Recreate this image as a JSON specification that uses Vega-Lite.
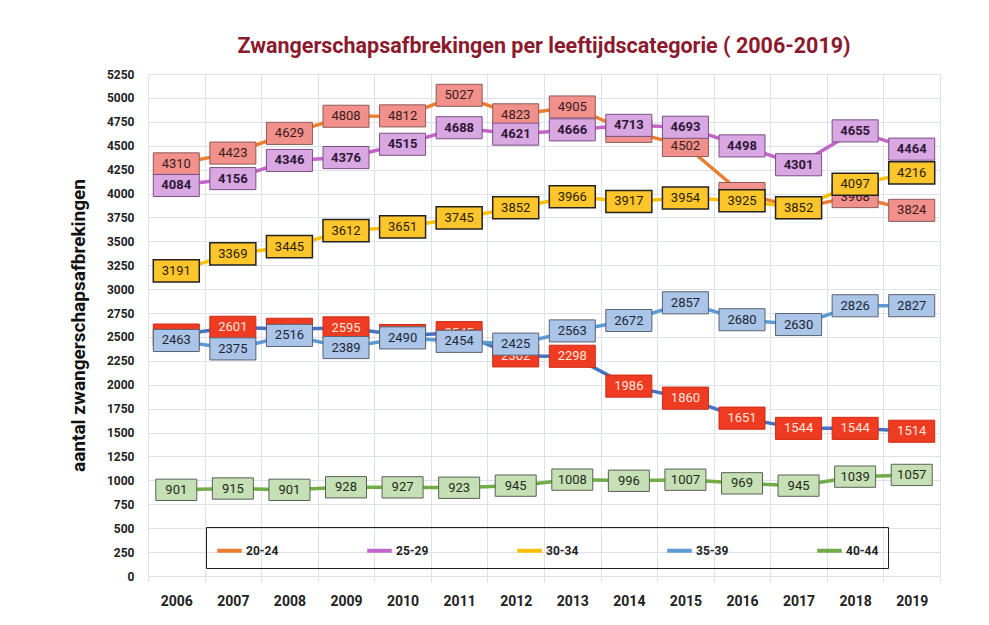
{
  "$schema": "https://vega.github.io/schema/vega-lite/v6.json",
  "width": 792,
  "height": 502,
  "autosize": {"type": "none"},
  "padding": {"left": 148, "top": 74, "right": 49, "bottom": 49},
  "background": "white",
  "config": {
    "view": {"stroke": null},
    "font": "Roboto, sans-serif"
  },
  "title": {
    "text": "Zwangerschapsafbrekingen per leeftijdscategorie ( 2006-2019)",
    "fontSize": 21.5,
    "fontWeight": "bold",
    "color": "#8B1A2E",
    "anchor": "middle",
    "offset": 11,
    "font": "Roboto, sans-serif"
  },
  "data": {
    "values": [
      {"year": "2006", "group": "20-24", "value": 4310},
      {"year": "2007", "group": "20-24", "value": 4423},
      {"year": "2008", "group": "20-24", "value": 4629},
      {"year": "2009", "group": "20-24", "value": 4808},
      {"year": "2010", "group": "20-24", "value": 4812},
      {"year": "2011", "group": "20-24", "value": 5027},
      {"year": "2012", "group": "20-24", "value": 4823},
      {"year": "2013", "group": "20-24", "value": 4905},
      {"year": "2014", "group": "20-24", "value": 4650},
      {"year": "2015", "group": "20-24", "value": 4502},
      {"year": "2016", "group": "20-24", "value": 4000},
      {"year": "2017", "group": "20-24", "value": 3852},
      {"year": "2018", "group": "20-24", "value": 3968},
      {"year": "2019", "group": "20-24", "value": 3824},
      {"year": "2006", "group": "25-29", "value": 4084},
      {"year": "2007", "group": "25-29", "value": 4156},
      {"year": "2008", "group": "25-29", "value": 4346},
      {"year": "2009", "group": "25-29", "value": 4376},
      {"year": "2010", "group": "25-29", "value": 4515},
      {"year": "2011", "group": "25-29", "value": 4688},
      {"year": "2012", "group": "25-29", "value": 4621},
      {"year": "2013", "group": "25-29", "value": 4666},
      {"year": "2014", "group": "25-29", "value": 4713},
      {"year": "2015", "group": "25-29", "value": 4693},
      {"year": "2016", "group": "25-29", "value": 4498},
      {"year": "2017", "group": "25-29", "value": 4301},
      {"year": "2018", "group": "25-29", "value": 4655},
      {"year": "2019", "group": "25-29", "value": 4464},
      {"year": "2006", "group": "30-34", "value": 3191},
      {"year": "2007", "group": "30-34", "value": 3369},
      {"year": "2008", "group": "30-34", "value": 3445},
      {"year": "2009", "group": "30-34", "value": 3612},
      {"year": "2010", "group": "30-34", "value": 3651},
      {"year": "2011", "group": "30-34", "value": 3745},
      {"year": "2012", "group": "30-34", "value": 3852},
      {"year": "2013", "group": "30-34", "value": 3966},
      {"year": "2014", "group": "30-34", "value": 3917},
      {"year": "2015", "group": "30-34", "value": 3954},
      {"year": "2016", "group": "30-34", "value": 3925},
      {"year": "2017", "group": "30-34", "value": 3852},
      {"year": "2018", "group": "30-34", "value": 4097},
      {"year": "2019", "group": "30-34", "value": 4216},
      {"year": "2006", "group": "15-19", "value": 2520},
      {"year": "2007", "group": "15-19", "value": 2601},
      {"year": "2008", "group": "15-19", "value": 2580},
      {"year": "2009", "group": "15-19", "value": 2595},
      {"year": "2010", "group": "15-19", "value": 2515},
      {"year": "2011", "group": "15-19", "value": 2545},
      {"year": "2012", "group": "15-19", "value": 2302},
      {"year": "2013", "group": "15-19", "value": 2298},
      {"year": "2014", "group": "15-19", "value": 1986},
      {"year": "2015", "group": "15-19", "value": 1860},
      {"year": "2016", "group": "15-19", "value": 1651},
      {"year": "2017", "group": "15-19", "value": 1544},
      {"year": "2018", "group": "15-19", "value": 1544},
      {"year": "2019", "group": "15-19", "value": 1514},
      {"year": "2006", "group": "35-39", "value": 2463},
      {"year": "2007", "group": "35-39", "value": 2375},
      {"year": "2008", "group": "35-39", "value": 2516},
      {"year": "2009", "group": "35-39", "value": 2389},
      {"year": "2010", "group": "35-39", "value": 2490},
      {"year": "2011", "group": "35-39", "value": 2454},
      {"year": "2012", "group": "35-39", "value": 2425},
      {"year": "2013", "group": "35-39", "value": 2563},
      {"year": "2014", "group": "35-39", "value": 2672},
      {"year": "2015", "group": "35-39", "value": 2857},
      {"year": "2016", "group": "35-39", "value": 2680},
      {"year": "2017", "group": "35-39", "value": 2630},
      {"year": "2018", "group": "35-39", "value": 2826},
      {"year": "2019", "group": "35-39", "value": 2827},
      {"year": "2006", "group": "40-44", "value": 901},
      {"year": "2007", "group": "40-44", "value": 915},
      {"year": "2008", "group": "40-44", "value": 901},
      {"year": "2009", "group": "40-44", "value": 928},
      {"year": "2010", "group": "40-44", "value": 927},
      {"year": "2011", "group": "40-44", "value": 923},
      {"year": "2012", "group": "40-44", "value": 945},
      {"year": "2013", "group": "40-44", "value": 1008},
      {"year": "2014", "group": "40-44", "value": 996},
      {"year": "2015", "group": "40-44", "value": 1007},
      {"year": "2016", "group": "40-44", "value": 969},
      {"year": "2017", "group": "40-44", "value": 945},
      {"year": "2018", "group": "40-44", "value": 1039},
      {"year": "2019", "group": "40-44", "value": 1057}
    ]
  },
  "encoding": {
    "x": {
      "field": "year",
      "type": "ordinal",
      "bandPosition": 0.5,
      "scale": {"type": "band", "paddingInner": 0, "paddingOuter": 0},
      "axis": {
        "title": null,
        "labelAngle": 0,
        "labelFontSize": 14,
        "labelFontWeight": "bold",
        "labelColor": "#222",
        "labelPadding": 12,
        "tickBand": "extent",
        "grid": true,
        "gridColor": "#DCE1EA",
        "domain": false,
        "ticks": true,
        "tickColor": "#DCE1EA",
        "tickSize": 6
      }
    },
    "y": {
      "field": "value",
      "type": "quantitative",
      "scale": {"domain": [0, 5250], "nice": false, "zero": true},
      "axis": {
        "title": "aantal zwangerschapsafbrekingen",
        "titleFontSize": 19,
        "titleFontWeight": "bold",
        "titleColor": "#111",
        "titlePadding": 18,
        "format": "d",
        "values": [0, 250, 500, 750, 1000, 1250, 1500, 1750, 2000, 2250, 2500, 2750, 3000, 3250, 3500, 3750, 4000, 4250, 4500, 4750, 5000, 5250],
        "labelFontSize": 12,
        "labelFontWeight": "bold",
        "labelColor": "#222",
        "labelPadding": 14,
        "grid": true,
        "gridColor": "#DCE1EA",
        "domain": false,
        "ticks": false
      }
    }
  },
  "layer": [
    {
      "mark": {"type": "line", "strokeWidth": 3.5},
      "encoding": {
        "color": {
          "field": "group",
          "type": "nominal",
          "scale": {
            "domain": ["20-24", "25-29", "30-34", "35-39", "40-44", "15-19"],
            "range": ["#ED7D31", "#C466C9", "#FFC000", "#5B9BD5", "#70AD47", "#4472C4"]
          },
          "legend": {
            "values": ["20-24", "25-29", "30-34", "35-39", "40-44"],
            "title": null,
            "orient": "none",
            "legendX": 58,
            "legendY": 453,
            "direction": "horizontal",
            "columns": 5,
            "columnPadding": 80,
            "padding": 9,
            "strokeColor": "#222",
            "symbolType": "stroke",
            "symbolStrokeWidth": 4,
            "symbolSize": 600,
            "labelFontSize": 12,
            "labelFontWeight": "bold",
            "labelColor": "#222",
            "labelOffset": 2
          }
        }
      }
    },
    {
      "transform": [{"filter": "datum.group === '20-24'"}],
      "mark": {"type": "point", "shape": "M-1,-0.48H1V0.48H-1Z", "size": 2116, "filled": true, "fill": "#F2908C", "stroke": "#8C5A5A", "strokeWidth": 1, "opacity": 1}
    },
    {
      "transform": [{"filter": "datum.group === '20-24'"}],
      "mark": {"type": "text", "fontSize": 13, "color": "#3A1A1A"},
      "encoding": {"text": {"field": "value", "type": "quantitative", "format": "d"}}
    },
    {
      "transform": [{"filter": "datum.group === '25-29'"}],
      "mark": {"type": "point", "shape": "M-1,-0.48H1V0.48H-1Z", "size": 2116, "filled": true, "fill": "#D9A8E2", "stroke": "#7A4F84", "strokeWidth": 1, "opacity": 1}
    },
    {
      "transform": [{"filter": "datum.group === '25-29'"}],
      "mark": {"type": "text", "fontSize": 13, "fontWeight": "bold", "color": "#2E1838"},
      "encoding": {"text": {"field": "value", "type": "quantitative", "format": "d"}}
    },
    {
      "transform": [{"filter": "datum.group === '30-34'"}],
      "mark": {"type": "point", "shape": "M-1,-0.48H1V0.48H-1Z", "size": 2116, "filled": true, "fill": "#FFC62C", "stroke": "#222222", "strokeWidth": 1.5, "opacity": 1}
    },
    {
      "transform": [{"filter": "datum.group === '30-34'"}],
      "mark": {"type": "text", "fontSize": 13, "color": "#2A2008"},
      "encoding": {"text": {"field": "value", "type": "quantitative", "format": "d"}}
    },
    {
      "transform": [{"filter": "datum.group === '15-19'"}],
      "mark": {"type": "point", "shape": "M-1,-0.48H1V0.48H-1Z", "size": 2116, "filled": true, "fill": "#EE3B22", "stroke": "#D02A14", "strokeWidth": 1, "opacity": 1}
    },
    {
      "transform": [{"filter": "datum.group === '15-19'"}],
      "mark": {"type": "text", "fontSize": 13, "color": "#FFE6DC"},
      "encoding": {"text": {"field": "value", "type": "quantitative", "format": "d"}}
    },
    {
      "transform": [{"filter": "datum.group === '35-39'"}],
      "mark": {"type": "point", "shape": "M-1,-0.48H1V0.48H-1Z", "size": 2116, "filled": true, "fill": "#ABC5E8", "stroke": "#5A6270", "strokeWidth": 1, "opacity": 1}
    },
    {
      "transform": [{"filter": "datum.group === '35-39'"}],
      "mark": {"type": "text", "fontSize": 13, "color": "#1E2636"},
      "encoding": {"text": {"field": "value", "type": "quantitative", "format": "d"}}
    },
    {
      "transform": [{"filter": "datum.group === '40-44'"}],
      "mark": {"type": "point", "shape": "M-1,-0.52H1V0.52H-1Z", "size": 1681, "filled": true, "fill": "#C6E0B5", "stroke": "#5A6058", "strokeWidth": 1, "opacity": 1}
    },
    {
      "transform": [{"filter": "datum.group === '40-44'"}],
      "mark": {"type": "text", "fontSize": 13, "color": "#1E2A1A"},
      "encoding": {"text": {"field": "value", "type": "quantitative", "format": "d"}}
    }
  ]
}
